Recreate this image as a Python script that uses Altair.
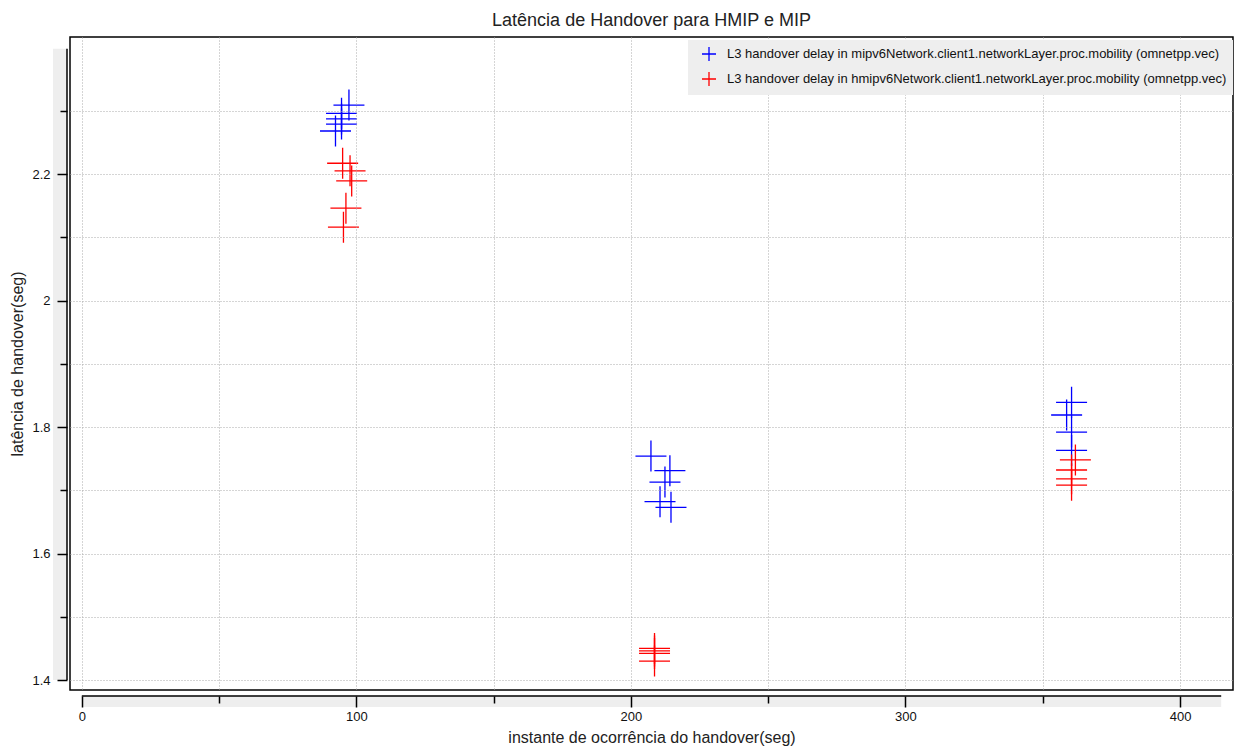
import altair as alt
import pandas as pd

MIP = "L3 handover delay in mipv6Network.client1.networkLayer.proc.mobility (omnetpp.vec)"
HMIP = "L3 handover delay in hmipv6Network.client1.networkLayer.proc.mobility (omnetpp.vec)"

mip_t = [97.3, 94.6, 94.6, 94.6, 92.4, 207.3, 214.2, 212.4, 210.6, 214.6, 360.5, 358.7, 360.5, 360.5]
mip_d = [2.309, 2.296, 2.287, 2.279, 2.268, 1.754, 1.731, 1.713, 1.682, 1.673, 1.839, 1.819, 1.792, 1.763]
hmip_t = [95.0, 97.7, 98.3, 96.2, 95.3, 208.6, 208.6, 208.6, 208.6, 361.9, 360.5, 360.5, 360.5]
hmip_d = [2.217, 2.205, 2.189, 2.146, 2.116, 1.450, 1.446, 1.442, 1.430, 1.748, 1.732, 1.718, 1.708]

x_ticks = [0, 50, 100, 150, 200, 250, 300, 350, 400]
y_ticks = [1.4, 1.5, 1.6, 1.7, 1.8, 1.9, 2.0, 2.1, 2.2, 2.3]
x_domain = [-4.3, 419.3]
y_domain = [1.3842, 2.4166]
x_extent = [0, 415]
y_extent = [1.4, 2.398]

FONT = "Liberation Sans"
CROSS = "M-1,0L1,0M0,-1L0,1"

df = pd.DataFrame({
    "t": mip_t + hmip_t,
    "d": mip_d + hmip_d,
    "s": [MIP] * len(mip_t) + [HMIP] * len(hmip_t),
})
one = pd.DataFrame({"k": [0]})

xscale = alt.Scale(domain=x_domain, nice=False, zero=False)
yscale = alt.Scale(domain=y_domain, nice=False, zero=False)

x_axis = alt.Axis(
    values=x_ticks, offset=6, domain=False, grid=True,
    gridColor="#aaaaaa", gridDash=[1, 2], gridWidth=1,
    tickColor="#000000", tickWidth=1.5,
    tickSize={"condition": {"test": "datum.value % 100 == 0", "value": 11}, "value": 7},
    labelExpr="datum.value % 100 == 0 ? datum.label : ''",
    labelFont=FONT, labelFontSize=13, labelColor="#111111", labelPadding=3,
    labelOverlap=False,
    title="instante de ocorrência do handover(seg)", titleFont=FONT, titleFontSize=16,
    titleFontWeight="normal", titleColor="#222222", titlePadding=6, zindex=1,
)
y_axis = alt.Axis(
    values=y_ticks, offset=3, domain=False, grid=True,
    gridColor="#aaaaaa", gridDash=[1, 2], gridWidth=1,
    tickColor="#000000", tickWidth=1.5,
    tickSize={"condition": {"test": "round(datum.value*10) % 2 == 0", "value": 10}, "value": 7},
    labelExpr="round(datum.value*10) % 2 == 0 ? format(datum.value, '~g') : ''",
    labelFont=FONT, labelFontSize=13, labelColor="#111111", labelPadding=7,
    labelOverlap=False,
    title="latência de handover(seg)", titleFont=FONT, titleFontSize=16,
    titleFontWeight="normal", titleColor="#222222", titlePadding=6, zindex=1,
)

ybandc = alt.Chart(one).mark_rect(color="#eeeeee").encode(
    x=alt.value(-17), x2=alt.value(-3),
    y=alt.datum(y_extent[1], scale=yscale), y2=alt.datum(y_extent[0]),
)
xbandc = alt.Chart(one).mark_rect(color="#eeeeee").encode(
    x=alt.datum(x_extent[0], scale=xscale), x2=alt.datum(x_extent[1]),
    y=alt.value(659), y2=alt.value(670),
)
yline = alt.Chart(one).mark_rule(color="#000000", strokeWidth=1.5).encode(
    x=alt.value(-3), y=alt.datum(y_extent[0]), y2=alt.datum(y_extent[1]),
)
xline = alt.Chart(one).mark_rule(color="#000000", strokeWidth=1.5).encode(
    y=alt.value(659), x=alt.datum(x_extent[0]), x2=alt.datum(x_extent[1]),
)

points = alt.Chart(df).mark_point(
    shape=CROSS, filled=False, size=961, strokeWidth=1.3, opacity=1
).encode(
    x=alt.X("t:Q", scale=xscale, axis=x_axis),
    y=alt.Y("d:Q", scale=yscale, axis=y_axis),
    color=alt.Color(
        "s:N",
        scale=alt.Scale(domain=[MIP, HMIP], range=["#0000ff", "#ff0000"]),
        legend=alt.Legend(
            title=None, orient="none", legendX=618, legendY=3, direction="vertical",
            fillColor="#eeeeee", padding=6, symbolType=CROSS, symbolSize=196,
            symbolStrokeWidth=1.3, symbolOffset=7, labelOffset=10, labelFont=FONT,
            labelFontSize=13, labelColor="#111111", labelLimit=0, rowPadding=5,
            zindex=2,
        ),
    ),
)

chart = alt.layer(ybandc, xbandc, yline, xline, points).properties(
    width=1163, height=653,
    padding={"left": 70, "top": 37, "right": 10, "bottom": 59},
    autosize=alt.AutoSizeParams(type="none"),
    title=alt.TitleParams(
        "Latência de Handover para HMIP e MIP", font=FONT, fontSize=18,
        fontWeight="normal", color="#222222", anchor="middle",
        baseline="alphabetic", offset=13, dy=20, frame="group",
    ),
    background="#ffffff",
).configure_view(stroke="#000000", strokeWidth=1.5)

chart.save("out.html", embed_options={"renderer": "svg", "actions": False})
